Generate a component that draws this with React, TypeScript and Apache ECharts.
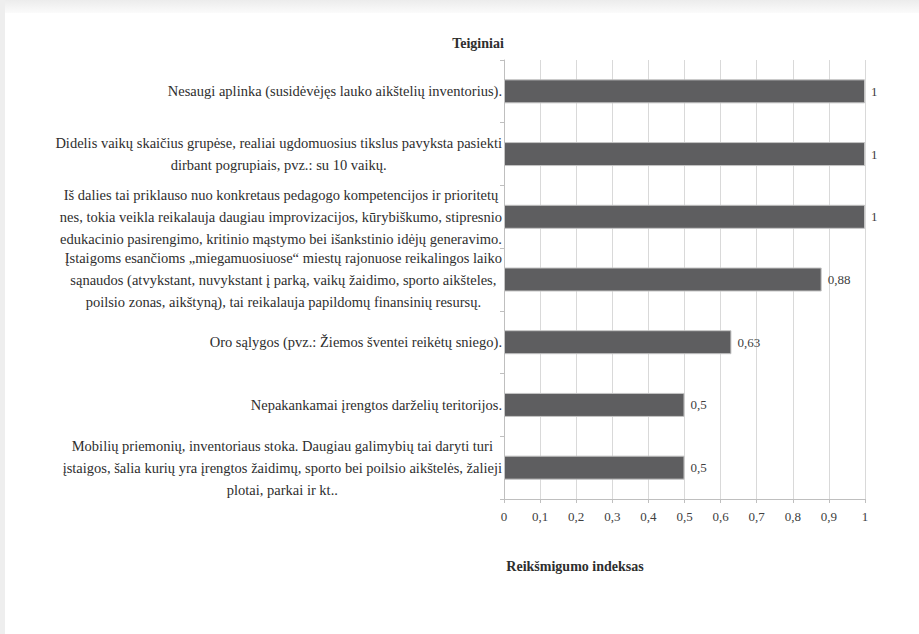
import React, { useEffect, useRef } from "react";
import * as echarts from "echarts";

const categories: string[] = [
  "Nesaugi aplinka (susidėvėjęs lauko aikštelių inventorius).",
  "Didelis vaikų skaičius grupėse, realiai ugdomuosius tikslus pavyksta pasiekti\ndirbant pogrupiais, pvz.: su 10 vaikų.",
  "Iš dalies tai priklauso nuo konkretaus pedagogo kompetencijos ir prioritetų\nnes, tokia veikla reikalauja daugiau improvizacijos, kūrybiškumo, stipresnio\nedukacinio pasirengimo, kritinio mąstymo bei išankstinio idėjų generavimo.",
  "Įstaigoms esančioms „miegamuosiuose“ miestų rajonuose reikalingos laiko\nsąnaudos (atvykstant, nuvykstant į parką, vaikų žaidimo, sporto aikšteles,\npoilsio zonas, aikštyną), tai reikalauja papildomų finansinių resursų.",
  "Oro sąlygos (pvz.: Žiemos šventei reikėtų sniego).",
  "Nepakankamai įrengtos darželių teritorijos.",
  "Mobilių priemonių, inventoriaus stoka. Daugiau galimybių tai daryti turi\nįstaigos, šalia kurių yra įrengtos žaidimų, sporto bei poilsio aikštelės, žalieji\nplotai, parkai ir kt..",
];

const values: number[] = [1, 1, 1, 0.88, 0.63, 0.5, 0.5];

const axisTitle = "Teiginiai";
const valueTitle = "Reikšmigumo indeksas";

const FONT = "Times New Roman, Liberation Serif, Tinos, DejaVu Serif, serif";
const TEXT = "#2e2e2e";

const fmt = (v: number) => String(Math.round(v * 100) / 100).replace(".", ",");

export default function App() {
  const ref = useRef<HTMLDivElement>(null);

  useEffect(() => {
    if (!ref.current) return;
    const chart = echarts.init(ref.current, null, { renderer: "svg" });
    chart.setOption({
      animation: false,
      backgroundColor: "#ffffff",
      textStyle: { fontFamily: FONT },
      graphic: [
        {
          type: "rect",
          shape: { x: 0, y: 0, width: 919, height: 13 },
          style: {
            fill: new echarts.graphic.LinearGradient(0, 0, 0, 1, [
              { offset: 0, color: "#ececec" },
              { offset: 1, color: "#fbfbfb" },
            ]),
          },
          silent: true,
          z: -10,
        },
        {
          type: "rect",
          shape: { x: 0, y: 0, width: 5, height: 634 },
          style: { fill: "#eeeeee" },
          silent: true,
          z: -10,
        },
      ],
      title: [
        {
          text: axisTitle,
          left: 473,
          top: 31,
          textAlign: "center",
          textStyle: { fontFamily: FONT, fontWeight: "bold", fontSize: 14, color: TEXT },
        },
        {
          text: valueTitle,
          left: 570,
          top: 554,
          textAlign: "center",
          textStyle: { fontFamily: FONT, fontWeight: "bold", fontSize: 14, color: TEXT },
        },
      ],
      grid: { left: 504, right: 54, top: 60, bottom: 135, containLabel: false },
      xAxis: {
        type: "value",
        min: 0,
        max: 1,
        interval: 0.1,
        axisLine: { show: true, lineStyle: { color: "#bfbfbf", width: 1 } },
        axisTick: { show: true, length: 4, lineStyle: { color: "#bfbfbf" } },
        splitLine: { show: true, lineStyle: { color: "#d9d9d9", width: 1 } },
        axisLabel: {
          margin: 11,
          fontFamily: FONT,
          fontSize: 13,
          color: "#404040",
          formatter: (v: number) => fmt(v),
        },
      },
      yAxis: {
        type: "category",
        inverse: true,
        data: categories,
        axisLine: { show: true, lineStyle: { color: "#bfbfbf", width: 1 } },
        axisTick: { show: true, length: 4, lineStyle: { color: "#bfbfbf" } },
        splitLine: { show: false },
        axisLabel: {
          interval: 0,
          margin: 2,
          fontFamily: FONT,
          formatter: (v: string) =>
            v
              .split("\n")
              .map((l) => `{c|${l}}`)
              .join("\n"),
          rich: {
            c: {
              align: "center",
              fontFamily: FONT,
              fontSize: 14.5,
              lineHeight: 22,
              color: TEXT,
            },
          },
        },
      },
      series: [
        {
          type: "bar",
          data: values,
          barWidth: 24,
          itemStyle: { color: "#5e5e60", borderColor: "#c4c4c4", borderWidth: 1 },
          label: {
            show: true,
            position: "right",
            distance: 6,
            fontFamily: FONT,
            fontSize: 13,
            color: "#404040",
            formatter: (p: any) => fmt(p.value),
          },
        },
      ],
    });
    return () => chart.dispose();
  }, []);

  return (
    <div
      ref={ref}
      style={{ position: "absolute", left: 0, top: 0, width: 919, height: 634 }}
    />
  );
}
